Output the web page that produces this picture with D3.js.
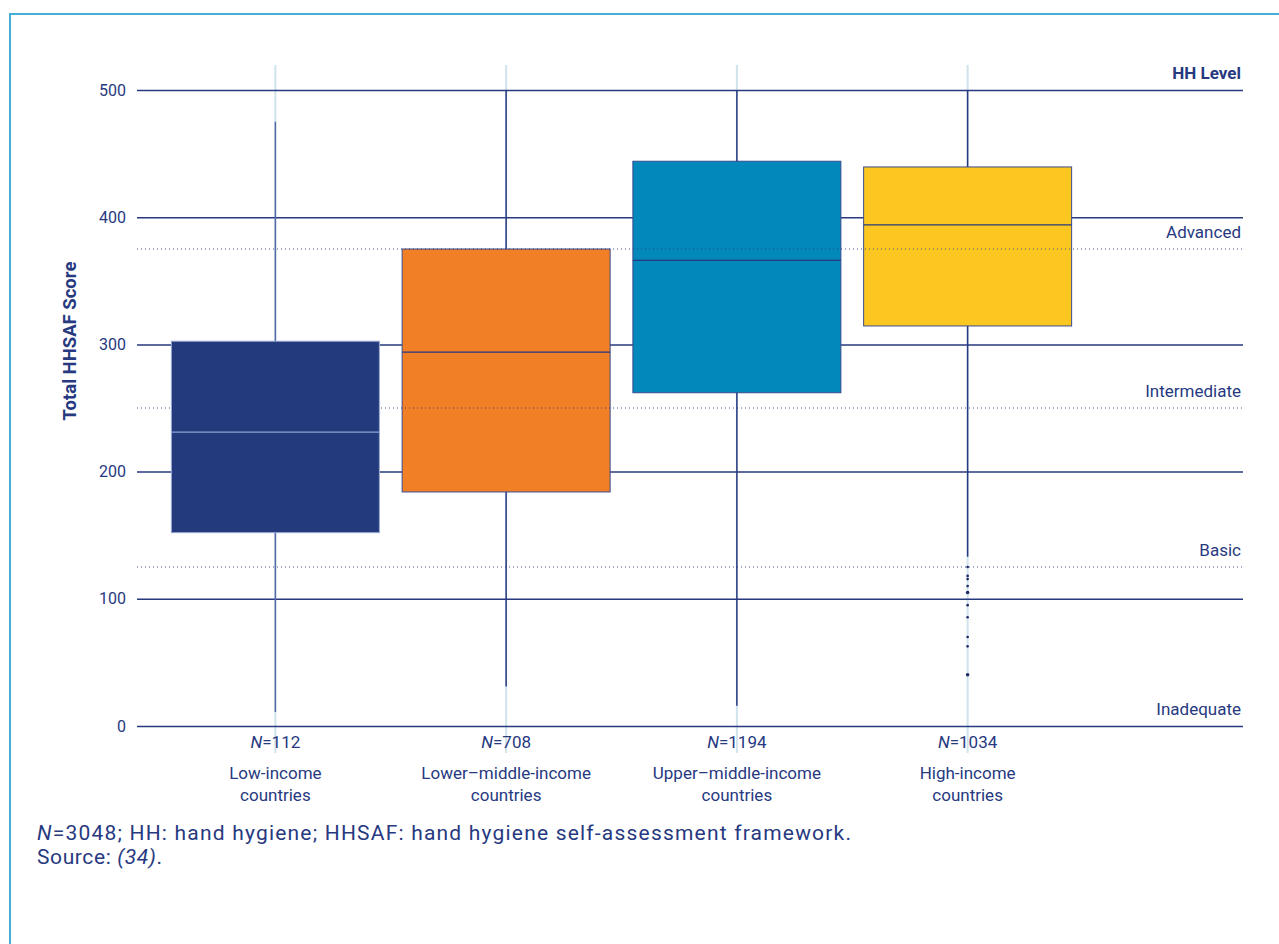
<!DOCTYPE html>
<html><head><meta charset="utf-8">
<script src="https://cdn.jsdelivr.net/npm/d3@7"></script>
<style>
html,body{margin:0;padding:0;background:#fff;}
svg{display:block;font-family:Roboto, "Open Sans", sans-serif;}
</style></head>
<body><svg id="c" width="1279" height="944"></svg>
<script>
const categories = ["Low-income countries","Lower–middle-income countries","Upper–middle-income countries","High-income countries"];
const catLine1 = ["Low-income","Lower–middle-income","Upper–middle-income","High-income"];
const catLine2 = ["countries","countries","countries","countries"];
const nValues = ["112","708","1194","1034"];
const whiskerLow = [11, 31, 16, 133];
const q1 = [152, 184, 262, 314.5];
const median = [231, 294, 366, 394];
const q3 = [302.5, 375, 444, 439.5];
const whiskerHigh = [475, 500, 500, 500];
const boxColors = ["#233a7d","#f07f26","#0388bb","#fcc721"];
const outliersHigh = [125, 118, 115.5, 110, 105, 95, 85.5, 70, 62.6, 40.3];
const yTicks = [0,100,200,300,400,500];
const levelValues = [375, 250, 125];
const levelLabels = [{v:500,t:"HH Level",b:true},{v:375,t:"Advanced"},{v:250,t:"Intermediate"},{v:125,t:"Basic"},{v:0,t:"Inadequate"}];

const navy = "#27397f";
const svg = d3.select("#c");

// frame
svg.append("rect").attr("x",10).attr("y",14).attr("width",1300).attr("height",1000)
  .attr("fill","none").attr("stroke","#45aed6").attr("stroke-width",2);

const y = d3.scaleLinear().domain([0,500]).range([726,90]);
const x = d3.scaleBand().domain(categories).range([160,1083]).paddingInner(0.1).paddingOuter(0.05);
const cx = c => x(c) + x.bandwidth()/2;
const gx0 = 137, gx1 = 1243;
const bw = 208;

// light vertical category lines
svg.selectAll(".vl").data(categories).enter().append("line")
  .attr("x1",cx).attr("x2",cx).attr("y1",65).attr("y2",753)
  .attr("stroke","#cfe3ec").attr("stroke-width",2);

// horizontal gridlines
const yAxis = d3.axisLeft(y).tickValues(yTicks).tickSize(-(gx1-gx0)).tickPadding(11);
const ga = svg.append("g").attr("transform",`translate(${gx0},0)`).call(yAxis);
ga.select(".domain").remove();
ga.selectAll(".tick line").attr("stroke",navy).attr("stroke-width",1.5);
ga.selectAll(".tick text").attr("fill",navy).attr("font-size",16).attr("font-family","Roboto, sans-serif");

// whiskers
svg.selectAll(".wh").data(categories).enter().append("line")
  .attr("x1",cx).attr("x2",cx)
  .attr("y1",(d,i)=>y(whiskerHigh[i])).attr("y2",(d,i)=>y(whiskerLow[i]))
  .attr("stroke",(d,i)=> i===0 ? "#5569a8" : navy).attr("stroke-width",1.5);

// boxes
svg.selectAll(".box").data(categories).enter().append("rect")
  .attr("x",d=>cx(d)-bw/2).attr("width",bw)
  .attr("y",(d,i)=>y(q3[i])).attr("height",(d,i)=>y(q1[i])-y(q3[i]))
  .attr("fill",(d,i)=>boxColors[i])
  .attr("stroke",(d,i)=> i===0 ? "#9aa9d2" : "#3a4c8e").attr("stroke-width",1);

// medians
svg.selectAll(".med").data(categories).enter().append("line")
  .attr("x1",d=>cx(d)-bw/2).attr("x2",d=>cx(d)+bw/2)
  .attr("y1",(d,i)=>y(median[i])).attr("y2",(d,i)=>y(median[i]))
  .attr("stroke",(d,i)=> i===0 ? "#8aa3d4" : navy).attr("stroke-width",1.3);

// outliers
svg.selectAll(".out").data(outliersHigh).enter().append("circle")
  .attr("cx",cx(categories[3])).attr("cy",d=>y(d))
  .attr("r",(d,i)=> (i===4||i===9) ? 1.8 : 1.3).attr("fill","#1f2d66");

// level dotted lines
svg.selectAll(".lv").data(levelValues).enter().append("line")
  .attr("x1",gx0).attr("x2",gx1).attr("y1",d=>y(d)).attr("y2",d=>y(d))
  .attr("stroke",navy).attr("stroke-width",1).attr("stroke-dasharray","1,3").attr("opacity",0.85);

// level labels
svg.selectAll(".ll").data(levelLabels).enter().append("text")
  .attr("x",1241).attr("y",d=>y(d.v)-11)
  .attr("text-anchor","end").attr("fill",navy)
  .attr("font-size",17)
  .attr("font-weight",d=>d.b?"bold":"normal").text(d=>d.t);

// N labels
const nt = svg.selectAll(".nl").data(categories).enter().append("text")
  .attr("x",cx).attr("y",748).attr("text-anchor","middle").attr("fill",navy).attr("font-size",17);
nt.append("tspan").attr("font-style","italic").text("N");
nt.append("tspan").text((d,i)=>"="+nValues[i]);

// category labels
svg.selectAll(".c1").data(categories).enter().append("text")
  .attr("x",cx).attr("y",779).attr("text-anchor","middle").attr("fill",navy).attr("font-size",17)
  .text((d,i)=>catLine1[i]);
svg.selectAll(".c2").data(categories).enter().append("text")
  .attr("x",cx).attr("y",801).attr("text-anchor","middle").attr("fill",navy).attr("font-size",17)
  .text((d,i)=>catLine2[i]);

// y-axis title
svg.append("text").attr("transform","translate(76,341) rotate(-90)")
  .attr("text-anchor","middle").attr("fill",navy).attr("font-size",18.5).attr("font-weight","bold")
  .text("Total HHSAF Score");

// footnote
const f1 = svg.append("text").attr("x",37).attr("y",840).attr("fill",navy).attr("font-size",21)
  .attr("textLength",814).attr("lengthAdjust","spacing");
f1.append("tspan").attr("font-style","italic").text("N");
f1.append("tspan").text("=3048; HH: hand hygiene; HHSAF: hand hygiene self-assessment framework.");
const f2 = svg.append("text").attr("x",37).attr("y",864).attr("fill",navy).attr("font-size",21).attr("letter-spacing",0.6);
f2.append("tspan").text("Source: ");
f2.append("tspan").attr("font-style","italic").text("(34)");
f2.append("tspan").text(".");
</script></body></html>
